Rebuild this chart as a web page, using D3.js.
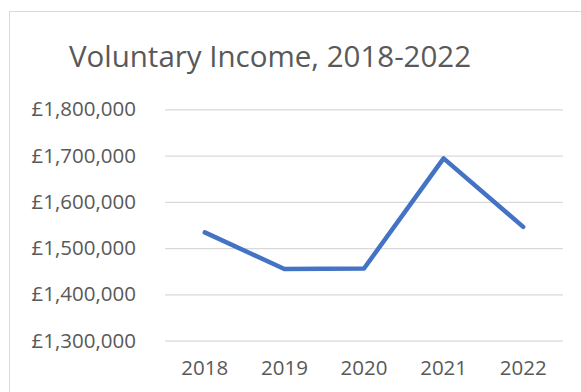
<!DOCTYPE html>
<html>
<head>
<meta charset="utf-8">
<script src="https://cdn.jsdelivr.net/npm/d3@7/dist/d3.min.js"></script>
<style>
  html, body { margin: 0; padding: 0; background: #fff; }
  svg { display: block; }
  text { font-family: "Open Sans", "Noto Sans", sans-serif; fill: #595959; }
</style>
</head>
<body>
<svg id="chart" width="581" height="392"></svg>
<script>
// Voluntary income by year
const years = ["2018", "2019", "2020", "2021", "2022"];
const income = [1534000, 1455000, 1456000, 1694000, 1546000];
const yTicks = [1300000, 1400000, 1500000, 1600000, 1700000, 1800000];
const titleText = "Voluntary Income, 2018-2022";

const svg = d3.select("#chart");
const plot = { left: 165, right: 563, top: 109.3, bottom: 340.7 };

// chart frame
svg.append("rect")
  .attr("x", 9.5).attr("y", 11.5)
  .attr("width", 640).attr("height", 420)
  .attr("fill", "#fff")
  .attr("stroke", "#d9d9d9").attr("stroke-width", 1);

// title
svg.append("text")
  .attr("x", 270).attr("y", 67)
  .attr("text-anchor", "middle")
  .attr("font-size", 29.5)
  .text(titleText);

const x = d3.scaleBand().domain(years).range([plot.left, plot.right]);
const y = d3.scaleLinear().domain([1300000, 1800000]).range([plot.bottom, plot.top]);

const fmt = v => "£" + d3.format(",")(v);

// horizontal gridlines + value labels
const yAxis = d3.axisLeft(y).tickValues(yTicks).tickFormat(fmt)
  .tickSize(-(plot.right - plot.left)).tickPadding(29);
const gy = svg.append("g").attr("transform", `translate(${plot.left},0)`).call(yAxis);
gy.select(".domain").remove();
gy.selectAll(".tick line").attr("stroke", "#d9d9d9").attr("stroke-width", 1.3);
gy.selectAll(".tick text")
  .attr("font-size", 20.5)
  .attr("fill", "#595959")
  .attr("font-family", "'Open Sans', sans-serif");

// category labels
const xAxis = d3.axisBottom(x).tickSize(0).tickPadding(20);
const gx = svg.append("g").attr("transform", `translate(0,${plot.bottom})`).call(xAxis);
gx.select(".domain").remove();
gx.selectAll(".tick text")
  .attr("font-size", 20.5)
  .attr("fill", "#595959")
  .attr("font-family", "'Open Sans', sans-serif");

// income line
const line = d3.line()
  .x((d, i) => x(years[i]) + x.bandwidth() / 2)
  .y(d => y(d));
svg.append("path")
  .datum(income)
  .attr("d", line)
  .attr("fill", "none")
  .attr("stroke", "#4472c4")
  .attr("stroke-width", 4.5)
  .attr("stroke-linejoin", "round")
  .attr("stroke-linecap", "round");
</script>
</body>
</html>
